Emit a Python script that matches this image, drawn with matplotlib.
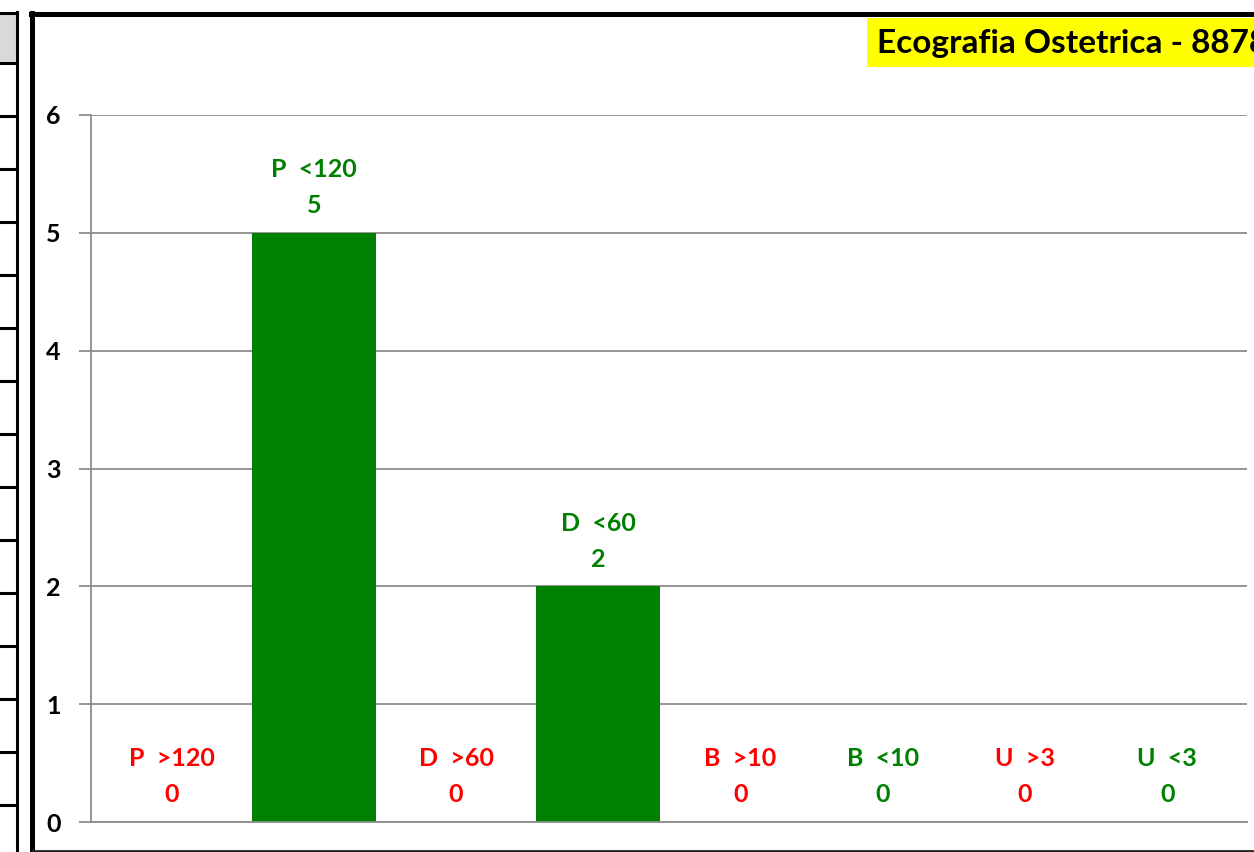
import matplotlib
matplotlib.use("Agg")
import matplotlib.pyplot as plt
from matplotlib.patches import Rectangle
from matplotlib.lines import Line2D

categories = ["P  >120", "P  <120", "D  >60", "D  <60", "B  >10", "B  <10", "U  >3", "U  <3"]
values = [0, 5, 0, 2, 0, 0, 0, 0]
label_colors = ["#FF0000", "#008000", "#FF0000", "#008000", "#FF0000", "#008000", "#FF0000", "#008000"]
yticks = [0, 1, 2, 3, 4, 5, 6]
title = "Ecografia Ostetrica - 8878"

W, H = 1254, 852
fig = plt.figure(figsize=(W / 100, H / 100), dpi=100)
fig.patch.set_facecolor("white")

def fx(px):
    return px / W

def fy(py):
    return 1 - py / H

FONT = ["Lato", "DejaVu Sans"]

# left partial table
fig.add_artist(Rectangle((0, fy(63)), fx(16.5), fy(12) - fy(63), transform=fig.transFigure,
                         facecolor="#D9D9D9", edgecolor="none", zorder=0))
fig.add_artist(Line2D([0, fx(17)], [fy(12.5), fy(12.5)], transform=fig.transFigure, color="black", lw=2.2))
for k in range(15):
    y = 63 + 53 * k
    fig.add_artist(Line2D([0, fx(17)], [fy(y), fy(y)], transform=fig.transFigure, color="black", lw=2.2))
fig.add_artist(Line2D([fx(17), fx(17)], [fy(11.5), 0], transform=fig.transFigure, color="black", lw=2.2))

# chart border
fig.add_artist(Line2D([fx(32), fx(32)], [fy(13), 0], transform=fig.transFigure, color="black", lw=3.6))
fig.add_artist(Line2D([fx(30.5), 1], [fy(14), fy(14)], transform=fig.transFigure, color="black", lw=3.6))
fig.add_artist(Line2D([fx(32), 1], [fy(850.5), fy(850.5)], transform=fig.transFigure, color="#222222", lw=2.0))

# title
fig.add_artist(Rectangle((fx(867), fy(67)), 1 - fx(867), fy(18) - fy(67), transform=fig.transFigure,
                         facecolor="#FFFF00", edgecolor="none", zorder=1))
fig.text(fx(877), fy(43), title, ha="left", va="center", fontsize=24, fontweight="bold",
         family=FONT, color="black", zorder=2)

ax = fig.add_axes([fx(91), 1 - 822 / H, fx(1247 - 91), (822 - 115) / H])
x = list(range(len(categories)))
ax.bar(x, values, width=0.87, color="#008000", zorder=2)
ax.set_xlim(-0.566, 7.56)
ax.set_ylim(0, 6)
ax.set_yticks(yticks)
ax.set_yticklabels([str(t) for t in yticks], fontsize=18, fontweight="bold", family=FONT)
ax.yaxis.grid(True, color="#8C8C8C", lw=1.3, zorder=0)
ax.set_axisbelow(True)
ax.set_xticks([])
for s in ["top", "right"]:
    ax.spines[s].set_visible(False)
ax.spines["left"].set_color("#8C8C8C")
ax.spines["left"].set_linewidth(1.3)
ax.spines["bottom"].set_color("#8C8C8C")
ax.spines["bottom"].set_linewidth(1.3)
ax.tick_params(axis="y", length=9, width=1.3, color="#8C8C8C", pad=13)

for xi, v, name, c in zip(x, values, categories, label_colors):
    ax.annotate(str(v), (xi, v), xytext=(0, 27), textcoords="offset pixels", ha="center", va="center",
                fontsize=18, fontweight="bold", family=FONT, color=c)
    ax.annotate(name, (xi, v), xytext=(0, 63), textcoords="offset pixels", ha="center", va="center",
                fontsize=18, fontweight="bold", family=FONT, color=c)

fig.savefig("out.png", dpi=100)
